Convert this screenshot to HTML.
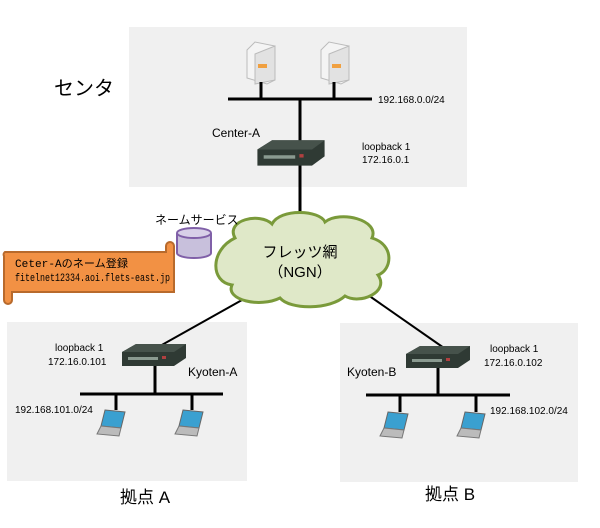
<!DOCTYPE html>
<html><head><meta charset="utf-8"><style>
html,body{margin:0;padding:0;background:#fff;}
svg{display:block;}
text{font-family:"Liberation Sans","Noto Sans CJK JP",sans-serif;fill:#000;}
text.mono{font-family:"Liberation Mono","Noto Sans CJK JP",monospace;}
</style></head><body>
<svg width="600" height="528" viewBox="0 0 600 528" xmlns="http://www.w3.org/2000/svg">
<defs>
<g id="srv">
<polygon points="0,8 8,0 28,4 28,38 20,42 0,36" fill="#f4f4f4" stroke="#bbb" stroke-width="1"/>
<polygon points="8,12 28,4 28,38 8,42" fill="#e2e2e2" stroke="#bbb"/>
<rect x="11" y="22" width="9" height="4" fill="#f0a040"/>
</g>
<g id="rtr">
<polygon points="0,8 14,0 64,0 64,14 52,22 0,22" fill="#2f3a34"/>
<polygon points="0,8 52,8 64,0 14,0" fill="#46524b"/>
<rect x="6" y="13" width="30" height="3" fill="#8a9a90"/>
<rect x="40" y="12" width="4" height="3" fill="#b04040"/>
</g>
<g id="lap">
<polygon points="8,0 28,2 24,18 4,16" fill="#3aa0d0" stroke="#666"/>
<polygon points="4,16 24,18 22,26 0,24" fill="#bbb" stroke="#777"/>
</g>
</defs>
<rect x="129" y="27" width="338" height="160" fill="#f0f0f0"/>
<rect x="7" y="322" width="240" height="159" fill="#f0f0f0"/>
<rect x="340" y="323" width="238" height="159" fill="#f0f0f0"/>

<text x="54" y="95" font-size="20">センタ</text>
<use href="#srv" x="247" y="42"/>
<use href="#srv" x="321" y="42"/>
<g stroke="#000" stroke-width="3">
<line x1="261" y1="82" x2="261" y2="99"/>
<line x1="334" y1="82" x2="334" y2="99"/>
<line x1="228" y1="99" x2="372" y2="99"/>
<line x1="300" y1="99" x2="300" y2="228"/>
</g>
<text x="378" y="103" font-size="10">192.168.0.0/24</text>
<text x="212" y="137" font-size="12">Center-A</text>
<text x="362" y="150" font-size="10">loopback 1</text>
<text x="362" y="163" font-size="10">172.16.0.1</text>
<use href="#rtr" x="258" y="140" transform="translate(-3,0) scale(1.05,1.15) translate(-10,-18)"/>

<g stroke="#000" stroke-width="2">
<line x1="242" y1="300" x2="160" y2="346"/>
<line x1="368" y1="295" x2="444" y2="348"/>
</g>
<path d="M235,238 C225,220 260,212 272,224 C280,208 320,210 325,222 C340,210 380,220 372,238 C395,245 392,270 378,275 C390,292 360,305 345,296 C330,310 290,310 280,298 C260,308 225,300 232,285 C210,282 210,250 235,238 Z" fill="#dfe8c8" stroke="#7a9a3a" stroke-width="3"/>
<text x="300" y="257" font-size="15" text-anchor="middle">フレッツ網</text>
<text x="300" y="277" font-size="15" text-anchor="middle">（NGN）</text>

<text x="155" y="224" font-size="12">ネームサービス</text>
<path d="M177,233 v20 a17,5 0 0 0 34,0 v-20" fill="#c8c0dc" stroke="#8060a8" stroke-width="2"/>
<ellipse cx="194" cy="233" rx="17" ry="5" fill="#d8d0e8" stroke="#8060a8" stroke-width="2"/>

<path d="M5,252 H166 V246 a4,4 0 0 1 8,0 V292 H12 V300 a4,4 0 0 1 -8,0 V256 a3,3 0 0 1 1,-4 Z" fill="#f29144" stroke="#b86a2c" stroke-width="2"/>
<text class="mono" x="15" y="267" font-size="11" textLength="113" lengthAdjust="spacingAndGlyphs">Ceter-Aのネーム登録</text>
<text class="mono" x="15" y="281" font-size="11" textLength="155" lengthAdjust="spacingAndGlyphs">fitelnet12334.aoi.flets-east.jp</text>

<use href="#rtr" x="122" y="344"/>
<g stroke="#000" stroke-width="3">
<line x1="155" y1="366" x2="155" y2="394"/>
<line x1="80" y1="394" x2="223" y2="394"/>
<line x1="116" y1="394" x2="116" y2="410"/>
<line x1="192" y1="394" x2="192" y2="410"/>
</g>
<use href="#lap" x="97" y="410"/>
<use href="#lap" x="175" y="410"/>
<text x="55" y="351" font-size="10">loopback 1</text>
<text x="48" y="365" font-size="10">172.16.0.101</text>
<text x="188" y="376" font-size="12">Kyoten-A</text>
<text x="15" y="413" font-size="10">192.168.101.0/24</text>
<text x="120" y="503" font-size="17">拠点 A</text>

<use href="#rtr" x="406" y="346"/>
<g stroke="#000" stroke-width="3">
<line x1="438" y1="368" x2="438" y2="395"/>
<line x1="366" y1="395" x2="510" y2="395"/>
<line x1="400" y1="395" x2="400" y2="412"/>
<line x1="476" y1="395" x2="476" y2="412"/>
</g>
<use href="#lap" x="380" y="412"/>
<use href="#lap" x="457" y="412"/>
<text x="490" y="352" font-size="10">loopback 1</text>
<text x="484" y="366" font-size="10">172.16.0.102</text>
<text x="347" y="376" font-size="12">Kyoten-B</text>
<text x="490" y="414" font-size="10">192.168.102.0/24</text>
<text x="425" y="500" font-size="17">拠点 B</text>
</svg>
</body></html>
